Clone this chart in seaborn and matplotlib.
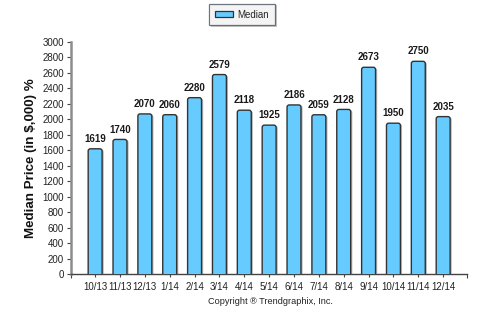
import matplotlib
matplotlib.use("Agg")
import matplotlib.pyplot as plt
import matplotlib.patheffects as pe
from matplotlib.patches import FancyBboxPatch, Patch
import seaborn as sns
import pandas as pd

months = ["10/13", "11/13", "12/13", "1/14", "2/14", "3/14", "4/14", "5/14",
          "6/14", "7/14", "8/14", "9/14", "10/14", "11/14", "12/14"]
median_price = [1619, 1740, 2070, 2060, 2280, 2579, 2118, 1925,
                2186, 2059, 2128, 2673, 1950, 2750, 2035]

sns.set_theme(style="white")
plt.rcParams["font.family"] = ["Liberation Sans", "DejaVu Sans"]

df = pd.DataFrame({"month": months, "median": median_price})

fig = plt.figure(figsize=(4.98, 3.23), dpi=100)
ax = fig.add_axes([0.1426, 0.1517, 0.7952, 0.7183])

bar_color = "#66CCFF"
edge_color = "#333333"

sns.barplot(data=df, x="month", y="median", color=bar_color, width=0.56,
            saturation=1, ax=ax)

# Replace the flat bars with bars that have rounded tops and a soft shadow
shadow = [pe.SimplePatchShadow(offset=(1.2, -0.6), shadow_rgbFace="#888888", alpha=0.6),
          pe.Normal()]
for p in list(ax.patches):
    x0, w, h = p.get_x(), p.get_width(), p.get_height()
    p.set_visible(False)
    rb = FancyBboxPatch((x0, -60), w, h + 60,
                        boxstyle="round,pad=0,rounding_size=0.09",
                        mutation_aspect=320,
                        facecolor=bar_color, edgecolor=edge_color, linewidth=1.0,
                        zorder=3, clip_on=True)
    rb.set_path_effects(shadow)
    ax.add_patch(rb)
    ax.annotate(f"{int(h)}", (x0 + w / 2, h), xytext=(0, 3.5),
                textcoords="offset points", ha="center", va="bottom",
                fontsize=7, fontweight="bold", color="#1a1a1a")

ax.set_xlim(-0.97, 14.96)
ax.set_ylim(0, 3000)
ax.set_yticks(range(0, 3001, 200))
ax.set_xticks(range(len(months)))
ax.set_xticklabels(months)
ax.set_xticks([-0.97, 14.96], minor=True)

ax.tick_params(axis="both", which="both", direction="out", length=3, width=0.8,
               color="#444444", labelsize=7, labelcolor="#222222", pad=2)
ax.tick_params(axis="x", which="major", length=2.5, pad=3)
ax.tick_params(left=True, bottom=True)
ax.tick_params(axis="x", which="minor", bottom=True, length=3)

for s in ["top", "right"]:
    ax.spines[s].set_visible(False)
ax.spines["left"].set_color("#8c8c8c")
ax.spines["left"].set_linewidth(1.8)
ax.spines["bottom"].set_color("#444444")
ax.spines["bottom"].set_linewidth(1.0)

ax.set_xlabel("")
ax.set_ylabel("Median Price (in $,000) %", fontsize=9.6, fontweight="bold",
              color="#111111", labelpad=4)

fig.text(0.543, 0.068, "Copyright \u00ae Trendgraphix, Inc.", ha="center",
         va="center", fontsize=6.6, color="#222222")

handle = Patch(facecolor=bar_color, edgecolor=edge_color, linewidth=0.9)
leg = fig.legend([handle], ["Median"], loc="center", bbox_to_anchor=(0.486, 0.955),
                 fontsize=7, frameon=True, fancybox=False, shadow=False,
                 handlelength=1.8, handleheight=0.6, borderpad=0.6,
                 handletextpad=0.5, borderaxespad=0)
frame = leg.get_frame()
frame.set_edgecolor("#4a5060")
frame.set_linewidth(0.9)
frame.set_path_effects([pe.SimplePatchShadow(offset=(1.2, -1.2),
                                             shadow_rgbFace="#999999", alpha=0.5),
                        pe.Normal()])

fig.savefig("out.png", dpi=100)
